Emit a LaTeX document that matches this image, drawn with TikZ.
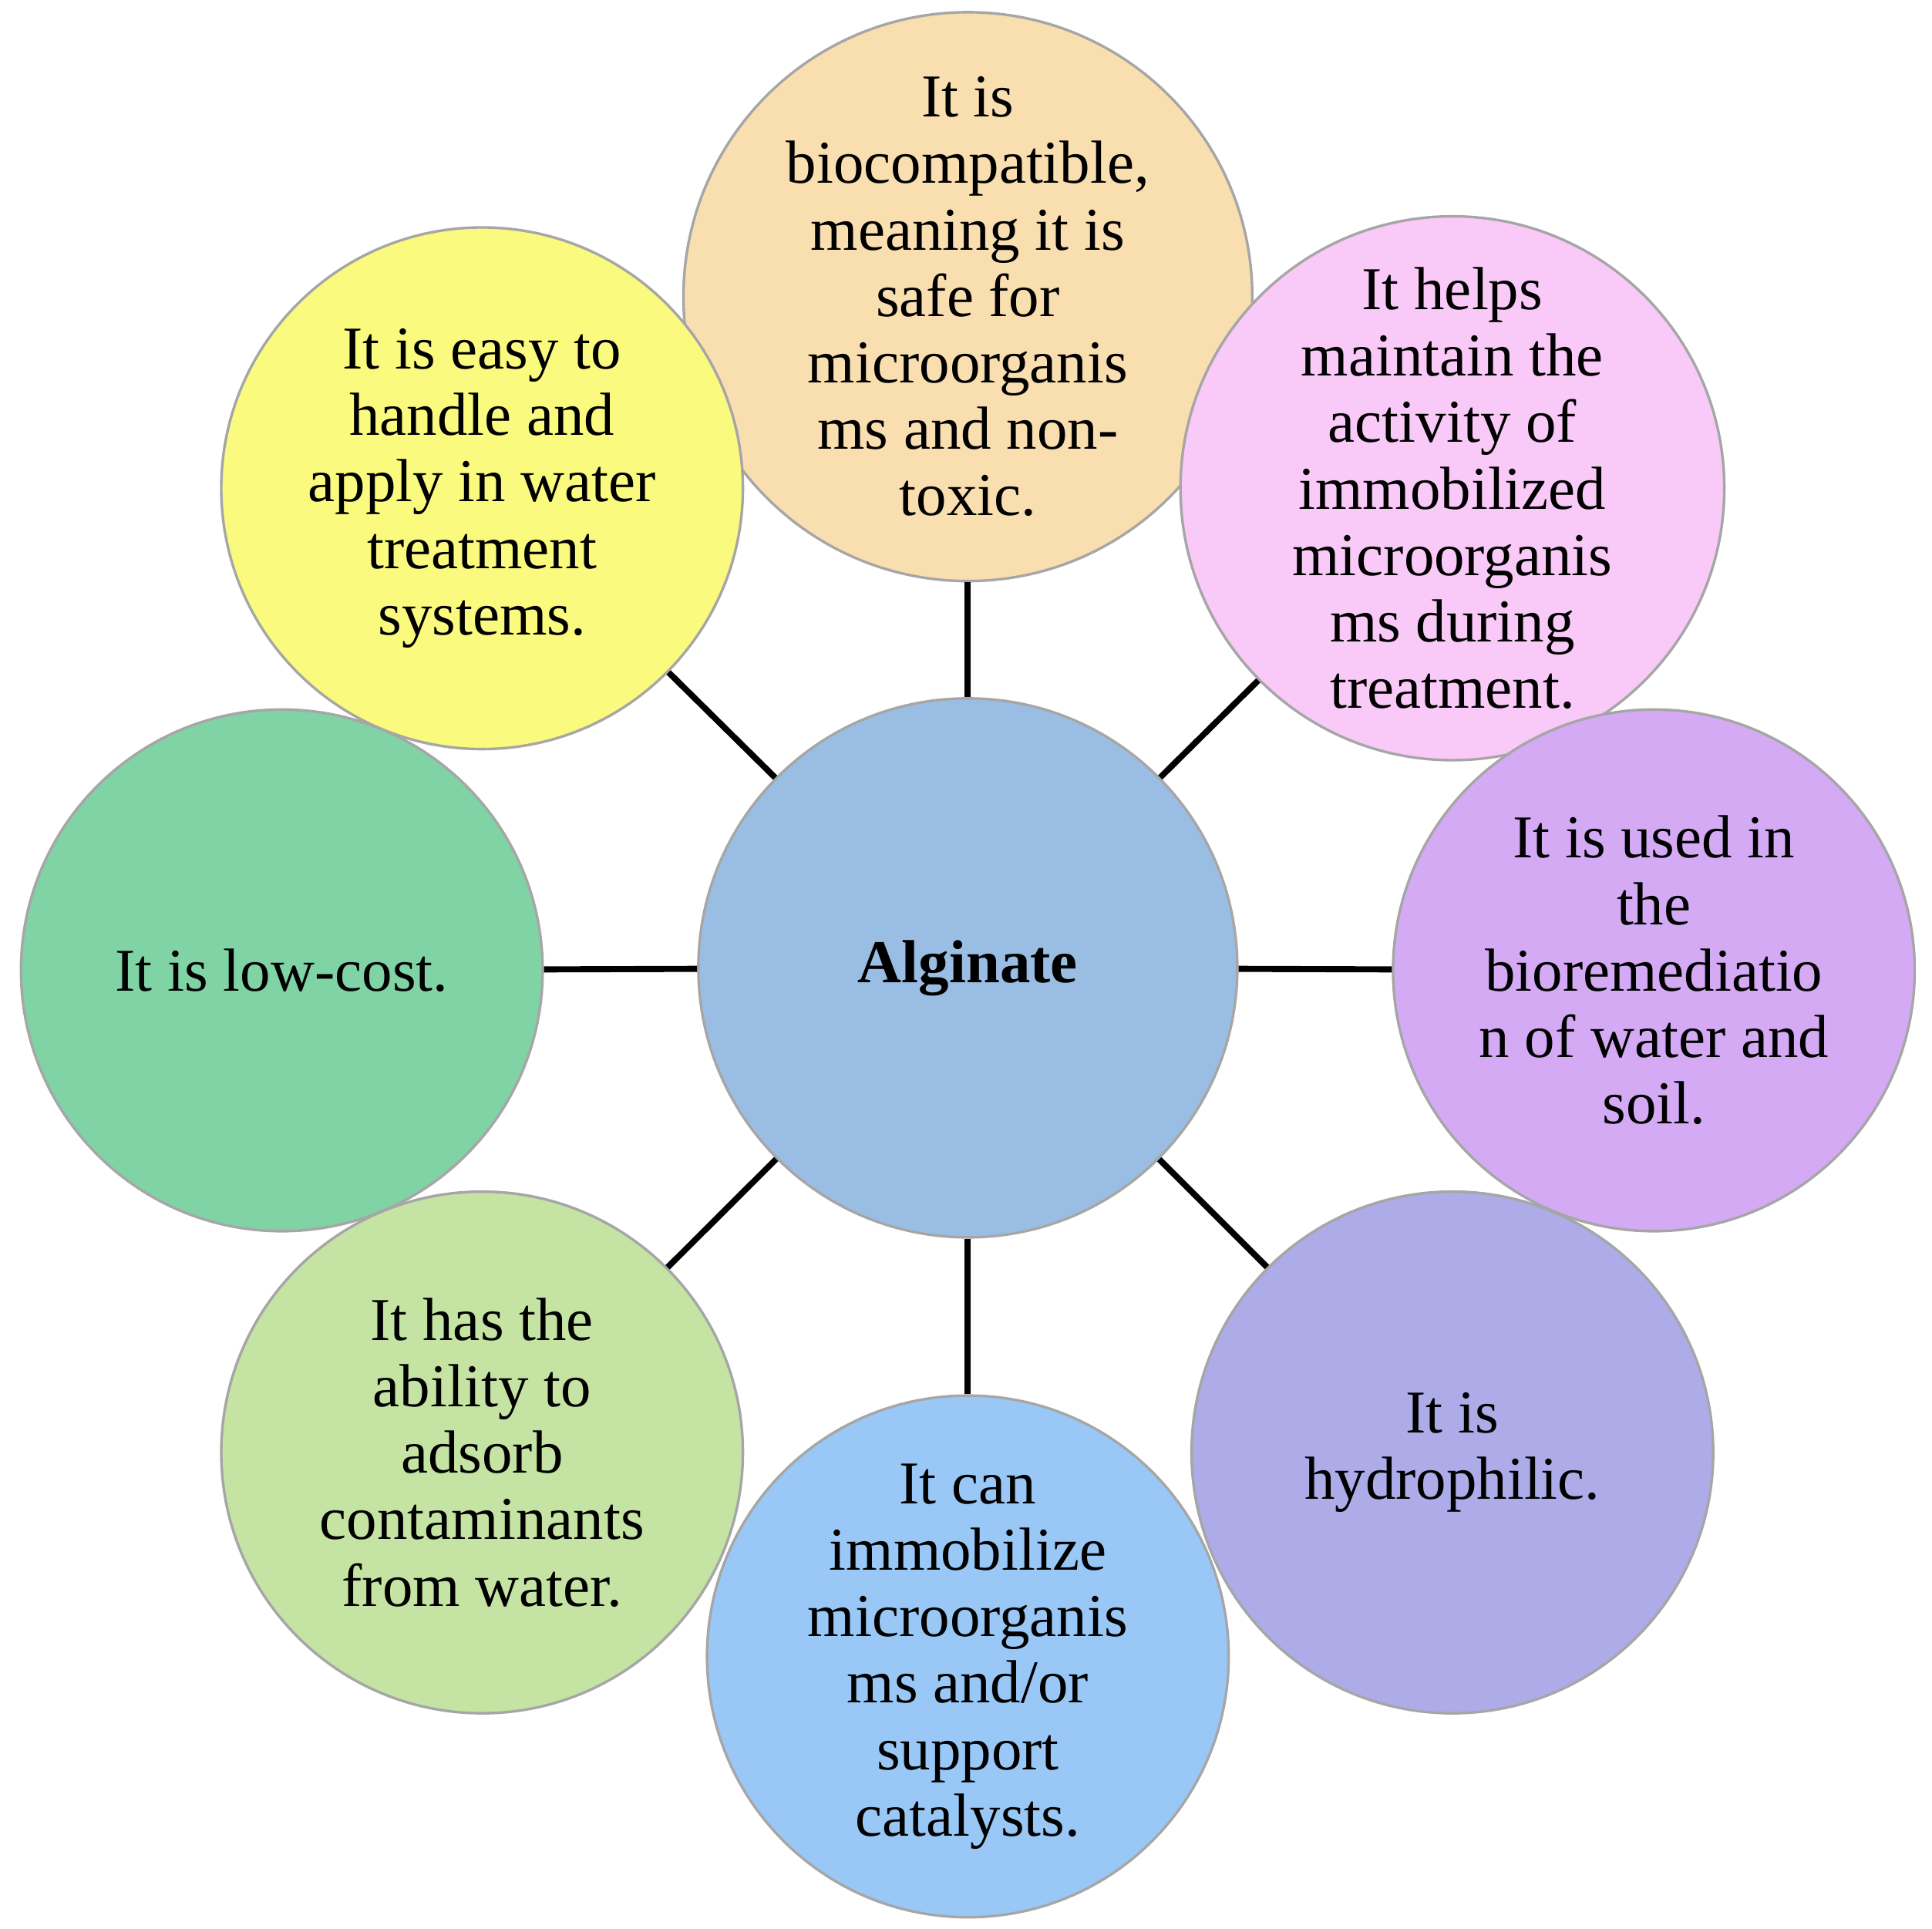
\documentclass[tikz,border=0pt]{standalone}
\usepackage{fontspec}
\setmainfont{Liberation Serif}
\begin{document}
\begin{tikzpicture}[x=1cm,y=-1cm,
  bub/.style={circle,draw=gray!70,line width=0.6pt,minimum size=4.22cm,inner sep=0pt,align=center,font=\fontsize{14}{15.3}\selectfont},
  link/.style={line width=1.4pt,black}]
\useasboundingbox (0,0) rectangle (15.63,15.60);
\node[bub,fill={rgb,255:red,154;green,190;blue,227},minimum size=4.36cm,font=\fontsize{14}{15.3}\selectfont\bfseries] (c) at (7.83,7.83) {Alginate};
\node[bub,fill={rgb,255:red,249;green,222;blue,176}] (t) at (7.83,2.40) {It is\\biocompatible,\\meaning it is\\safe for\\microorganis\\ms and non-\\toxic.};
\node[bub,fill={rgb,255:red,249;green,201;blue,247}] (tr) at (11.75,3.95) {It helps\\maintain the\\activity of\\immobilized\\microorganis\\ms during\\treatment.};
\node[bub,fill={rgb,255:red,212;green,170;blue,245}] (r) at (13.38,7.85) {It is used in\\the\\bioremediatio\\n of water and\\soil.};
\node[bub,fill={rgb,255:red,173;green,171;blue,232}] (br) at (11.75,11.75) {It is\\hydrophilic.};
\node[bub,fill={rgb,255:red,153;green,200;blue,247}] (b) at (7.83,13.40) {It can\\immobilize\\microorganis\\ms and/or\\support\\catalysts.};
\node[bub,fill={rgb,255:red,197;green,227;blue,162}] (bl) at (3.90,11.75) {It has the\\ability to\\adsorb\\contaminants\\from water.};
\node[bub,fill={rgb,255:red,127;green,211;blue,165}] (l) at (2.28,7.85) {It is low-cost.};
\node[bub,fill={rgb,255:red,250;green,250;blue,126}] (tl) at (3.90,3.95) {It is easy to\\handle and\\apply in water\\treatment\\systems.};
\foreach \n in {t,tr,r,br,b,bl,l,tl} \draw[link] (c) -- (\n);
\end{tikzpicture}
\end{document}
